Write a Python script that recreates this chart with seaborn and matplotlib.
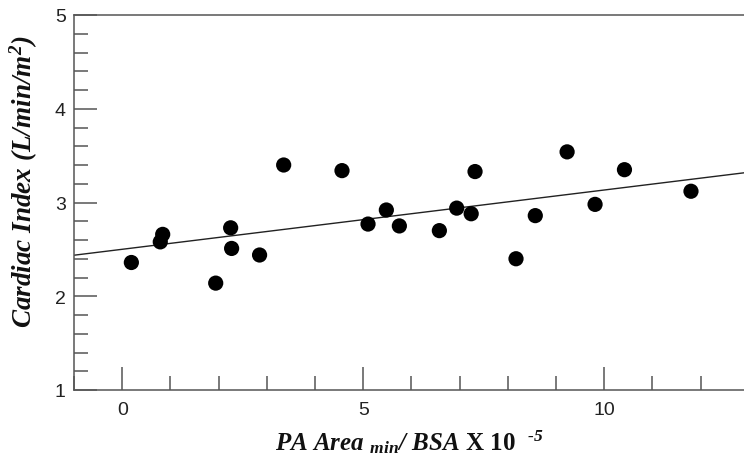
import numpy as np
import pandas as pd
import seaborn as sns
import matplotlib.pyplot as plt

# PA area (indexed) vs cardiac index
pa_area = [0.19, 0.84, 0.79, 1.94, 2.25, 2.27, 2.85, 3.35, 4.56, 5.10, 5.48,
           5.75, 6.58, 6.94, 7.24, 7.32, 8.17, 8.57, 9.23, 9.81, 10.42, 11.80]
cardiac_index = [2.36, 2.66, 2.58, 2.14, 2.73, 2.51, 2.44, 3.40, 3.34, 2.77, 2.92,
                 2.75, 2.70, 2.94, 2.88, 3.33, 2.40, 2.86, 3.54, 2.98, 3.35, 3.12]

df = pd.DataFrame({'pa': pa_area, 'ci': cardiac_index})

sns.set_style('ticks')
plt.rcParams['font.family'] = ['Liberation Sans', 'DejaVu Sans']
plt.rcParams['mathtext.fontset'] = 'custom'
plt.rcParams['mathtext.rm'] = 'Liberation Serif:bold:italic'
plt.rcParams['mathtext.it'] = 'Liberation Serif:bold:italic'
plt.rcParams['mathtext.bf'] = 'Liberation Serif:bold'

fig, ax = plt.subplots(figsize=(7.44, 4.64), dpi=100)
fig.subplots_adjust(left=74/744, right=1.0, top=1-16/464, bottom=1-391/464)

ax.set_xlim(-1, 12.9)
ax.set_ylim(1, 5)

sns.scatterplot(data=df, x='pa', y='ci', ax=ax, color='black', s=120,
                edgecolor='none', zorder=3)
sns.regplot(data=df, x='pa', y='ci', ax=ax, scatter=False, ci=None,
            truncate=False, line_kws={'color': '#222222', 'lw': 1.0})
ax.set_xlim(-1, 12.9)

ax.set_xticks([0, 5, 10])
ax.set_xticks(np.arange(-1, 13), minor=True)
ax.set_yticks([1, 2, 3, 4, 5])
ax.set_yticks(np.arange(1, 5.01, 0.2), minor=True)

ax.tick_params(which='both', direction='in', color='#555555', width=1.1,
               labelsize=14, labelcolor='#222222')
ax.tick_params(which='major', length=16.5)
ax.tick_params(which='minor', length=10)
ax.tick_params(axis='y', pad=6)
ax.tick_params(axis='x', pad=8)
ax.tick_params(top=False, right=False, which='both')

for side in ['left', 'bottom', 'top']:
    ax.spines[side].set_color('#555555')
    ax.spines[side].set_linewidth(1.1)
ax.spines['right'].set_visible(False)

label_font = dict(family='Liberation Serif', weight='bold', style='italic',
                  color='#111111')
ax.set_xlabel(r'PA Area $_{\mathrm{min}}$/ BSA $\mathbf{X\ 10}$  $^{\text{-5}}$',
              fontsize=18, **label_font)
ax.set_ylabel(r'Cardiac Index (L/min/m$^{\mathrm{2}}$)', fontsize=19.5, **label_font)
ax.xaxis.set_label_coords(0.5, -0.10)
ax.yaxis.set_label_coords(-0.05, 0.557)

plt.savefig('out.png', dpi=100)
